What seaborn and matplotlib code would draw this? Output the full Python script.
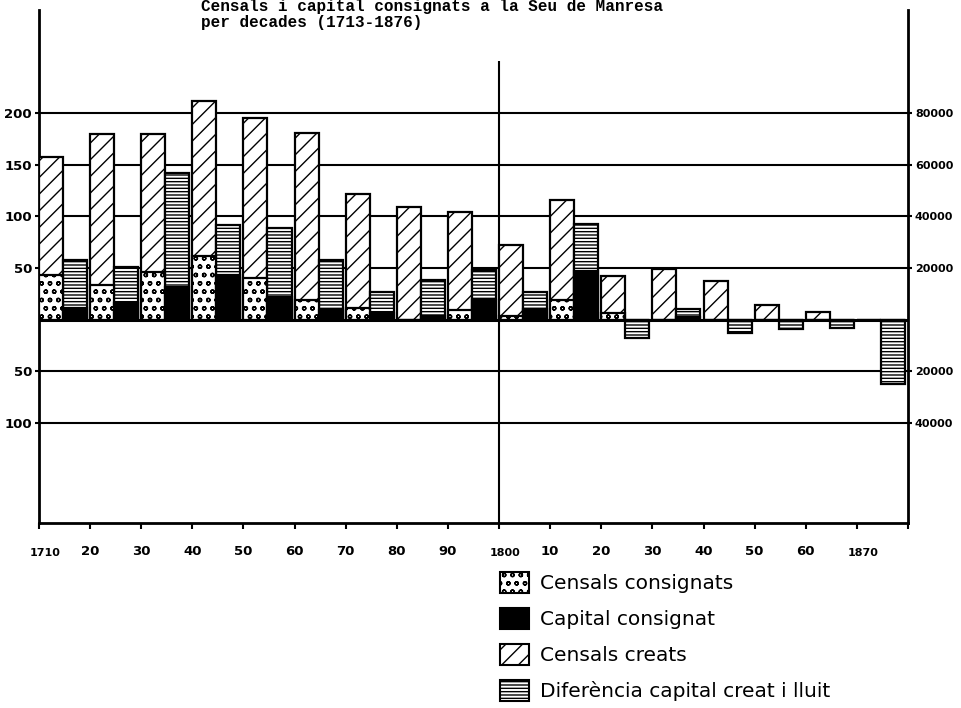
import matplotlib
matplotlib.use("Agg")
import matplotlib.pyplot as plt
import matplotlib.transforms as mtransforms
from matplotlib.patches import Patch
import numpy as np
import pandas as pd
import seaborn as sns

# ---------------- data ----------------
decades = [1710, 1720, 1730, 1740, 1750, 1760, 1770, 1780, 1790,
           1800, 1810, 1820, 1830, 1840, 1850, 1860, 1870]
# number of censals (left axis)
censals_creats = [158, 180, 180, 212, 195, 181, 122, 109, 104,
                  72, 116, 42, 49, 37, 14, 7, 0]
censals_consignats = [43, 34, 46, 62, 40, 19, 11, 0, 9,
                      4, 19, 6, 0, 0, 0, 0, 0]
# capital (right axis)
diferencia_capital = [23000, 20400, 56800, 36600, 35600, 23000, 10800, 15200, 19200,
                      10800, 37000, -7000, 4000, -5300, -3500, -3200, -24800]
capital_consignat = [4400, 6400, 12800, 17200, 8800, 3600, 2400, 1600, 7600,
                     4000, 18800, 0, 1000, 0, 0, 0, 0]

xtick_values = [1710, 1720, 1730, 1740, 1750, 1760, 1770, 1780, 1790,
                1800, 1810, 1820, 1830, 1840, 1850, 1860, 1870, 1880]
xtick_labels = ["1710", "20", "30", "40", "50", "60", "70", "80", "90",
                "1800", "10", "20", "30", "40", "50", "60", "1870", ""]
left_ticks = [200, 150, 100, 50, -50, -100]
left_tick_labels = ["200", "150", "100", "50", "50", "100"]
right_ticks = [80000, 60000, 40000, 20000, -20000, -40000]
right_tick_labels = ["80000", "60000", "40000", "20000", "20000", "40000"]

title_line1 = "Censals i capital consignats a la Seu de Manresa"
title_line2 = "per decades (1713-1876)"

legend_labels = ["Censals consignats", "Capital consignat",
                 "Censals creats", "Diferència capital creat i lluit"]

CAP_PER_UNIT = 400.0   # 50 censals <-> 20000 on the right axis
YLIM = (-197, 300)

# ---------------- style ----------------
sns.set_theme(style="white")
plt.rcParams["font.family"] = ["DejaVu Sans"]
plt.rcParams["hatch.linewidth"] = 1.0
plt.rcParams["hatch.color"] = "black"
plt.rcParams["text.color"] = "black"
plt.rcParams["axes.labelcolor"] = "black"
plt.rcParams["xtick.color"] = "black"
plt.rcParams["ytick.color"] = "black"

fig = plt.figure(figsize=(9.62, 7.08), dpi=100)
fig.patch.set_facecolor("white")
W, H = 962.0, 708.0
ax = fig.add_axes([39 / W, 1 - 523 / H, (908 - 39) / W, (523 - 10) / H])
ax.set_facecolor("white")

# pair centre for each decade
pos = [d + 4.7 for d in decades]
n = len(decades)

back = pd.DataFrame({
    "pos": pos * 2,
    "serie": ["creats"] * n + ["diferencia"] * n,
    "valor": list(censals_creats) + [v / CAP_PER_UNIT for v in diferencia_capital],
})
front = pd.DataFrame({
    "pos": pos * 2,
    "serie": ["consignats"] * n + ["capital"] * n,
    "valor": list(censals_consignats) + [v / CAP_PER_UNIT for v in capital_consignat],
})

# grid lines behind bars
for t in left_ticks:
    ax.axhline(t, color="black", lw=1.5, zorder=0)

sns.barplot(data=back, x="pos", y="valor", hue="serie",
            hue_order=["creats", "diferencia"],
            palette={"creats": "white", "diferencia": "white"},
            native_scale=True, dodge=True, width=0.94, saturation=1,
            edgecolor="black", linewidth=1.6, errorbar=None, legend=False,
            ax=ax, zorder=2)
sns.barplot(data=front, x="pos", y="valor", hue="serie",
            hue_order=["consignats", "capital"],
            palette={"consignats": "white", "capital": "black"},
            native_scale=True, dodge=True, width=0.94, saturation=1,
            edgecolor="black", linewidth=1.6, errorbar=None, legend=False,
            ax=ax, zorder=3)

hatches = ["//", "-----", "oo", None]
for cont, h in zip(ax.containers, hatches):
    for p in cont:
        if h:
            p.set_hatch(h)
        p.set_zorder(3)

ax.axhline(0, color="black", lw=2.2, zorder=4)
ax.vlines(1800, YLIM[0], 251, color="black", lw=1.5, zorder=1)

ax.set_xlim(1710, 1880)
ax.set_ylim(*YLIM)
ax.set_xlabel("")
ax.set_ylabel("")

for s in ["left", "right", "bottom"]:
    ax.spines[s].set_visible(True)
    ax.spines[s].set_color("black")
    ax.spines[s].set_linewidth(2)
ax.spines["top"].set_visible(False)

ax.set_yticks(left_ticks)
ax.set_yticklabels(left_tick_labels, fontsize=9.5, fontweight="bold")
ax.set_xticks(xtick_values)
ax.set_xticklabels(xtick_labels, fontsize=9.5, fontweight="bold")
ax.tick_params(axis="x", bottom=True, length=4, width=1.5, direction="out",
               pad=12, colors="black")
ax.tick_params(axis="y", left=True, length=3, width=1.5, direction="out",
               pad=2, colors="black")
for lab in ax.get_xticklabels():
    if len(lab.get_text()) == 4:
        lab.set_fontsize(8)
        lab.set_transform(lab.get_transform() +
                          mtransforms.ScaledTranslation(6 / 100, -3 / 100,
                                                        fig.dpi_scale_trans))

ax2 = ax.twinx()
ax2.set_ylim(YLIM[0] * CAP_PER_UNIT, YLIM[1] * CAP_PER_UNIT)
ax2.set_yticks(right_ticks)
ax2.set_yticklabels(right_tick_labels, fontsize=8, fontweight="bold")
ax2.tick_params(axis="y", right=True, length=3, width=1.5, direction="out",
                pad=2, colors="black")
for s in ax2.spines.values():
    s.set_visible(False)
ax2.grid(False)

# title (two lines at the top)
mono = ["Liberation Mono", "DejaVu Sans Mono"]
fig.text(201 / W, 1 - 7 / H, title_line1, family=mono,
         fontsize=11.5, fontweight="bold", ha="left", va="center", color="black")
fig.text(201 / W, 1 - 22 / H, title_line2, family=mono,
         fontsize=11.5, fontweight="bold", ha="left", va="center", color="black")

# legend
handles = [
    Patch(facecolor="white", edgecolor="black", hatch="oo", lw=1.5),
    Patch(facecolor="black", edgecolor="black", lw=1.5),
    Patch(facecolor="white", edgecolor="black", hatch="//", lw=1.5),
    Patch(facecolor="white", edgecolor="black", hatch="-----", lw=1.5),
]
leg = fig.legend(handles, legend_labels, loc="upper left",
                 bbox_to_anchor=(500 / W, 1 - 572 / H), frameon=False,
                 fontsize=14.5, handlelength=1.45, handleheight=1.2,
                 labelspacing=0.74, handletextpad=0.55, borderpad=0,
                 borderaxespad=0)
for t in leg.get_texts():
    t.set_color("black")

fig.savefig("out.png", dpi=100, facecolor="white")
